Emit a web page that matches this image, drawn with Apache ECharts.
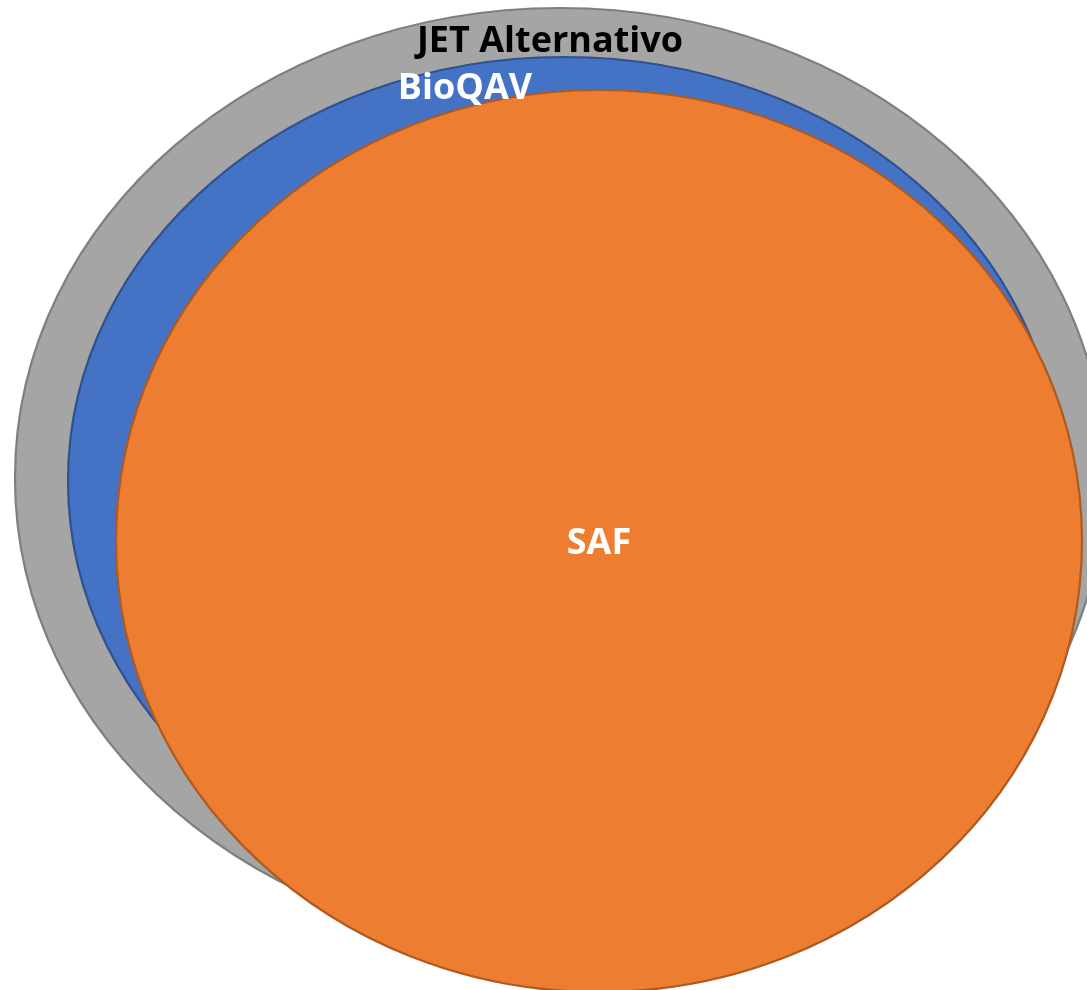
<!DOCTYPE html>
<html>
<head>
<meta charset="utf-8">
<title>JET Alternativo / BioQAV / SAF</title>
<script src="https://cdn.jsdelivr.net/npm/echarts@6/dist/echarts.min.js"></script>
<style>
  html, body { margin: 0; padding: 0; background: #ffffff; }
  #chart { width: 1087px; height: 990px; }
</style>
</head>
<body>
<div id="chart"></div>
<script>
// Nested sets, drawn from the outermost to the innermost
const sets = ['JET Alternativo', 'BioQAV', 'SAF'];
const centerX = [560, 564, 599];
const centerY = [478, 481, 541];
const radiusX = [545, 496, 483];
const radiusY = [470, 424, 451];

const fills = ['#A5A5A5', '#4472C4', '#ED7D31'];
const strokes = ['#7F7F7F', '#2F528F', '#AE5A21'];
const labelColors = ['#000000', '#ffffff', '#ffffff'];
// label anchor relative to each ellipse: [dx from centre, offset below the top, or null for centre]
const labelPlacement = [[-10, 34], [-99, 32], [0, null]];
const labelDy = [0, 0, 3];

const data = sets.map((name, i) => [centerX[i], centerY[i], radiusX[i], radiusY[i], i]);

const chart = echarts.init(document.getElementById('chart'), null, { renderer: 'canvas' });

chart.setOption({
  animation: false,
  grid: { left: 0, right: 0, top: 0, bottom: 0 },
  xAxis: { type: 'value', min: 0, max: 1087, show: false },
  yAxis: { type: 'value', min: 0, max: 990, inverse: true, show: false },
  series: [{
    type: 'custom',
    coordinateSystem: 'cartesian2d',
    clip: false,
    data: data,
    renderItem: function (params, api) {
      const i = api.value(4);
      const c = api.coord([api.value(0), api.value(1)]);
      const s = api.size([api.value(2), api.value(3)]);
      const place = labelPlacement[i];
      const lx = c[0] + place[0];
      const ly = (place[1] === null ? c[1] : c[1] - s[1] + place[1]) + labelDy[i];
      return {
        type: 'group',
        children: [{
          type: 'ellipse',
          shape: { cx: c[0], cy: c[1], rx: s[0], ry: s[1] },
          style: { fill: fills[i], stroke: strokes[i], lineWidth: 2.2 }
        }, {
          type: 'text',
          z2: 10,
          style: {
            x: lx,
            y: ly,
            text: sets[i],
            fill: labelColors[i],
            font: 'bold 36px "Open Sans", "Noto Sans", sans-serif',
            align: 'center',
            verticalAlign: 'middle'
          }
        }]
      };
    }
  }]
});
</script>
</body>
</html>
